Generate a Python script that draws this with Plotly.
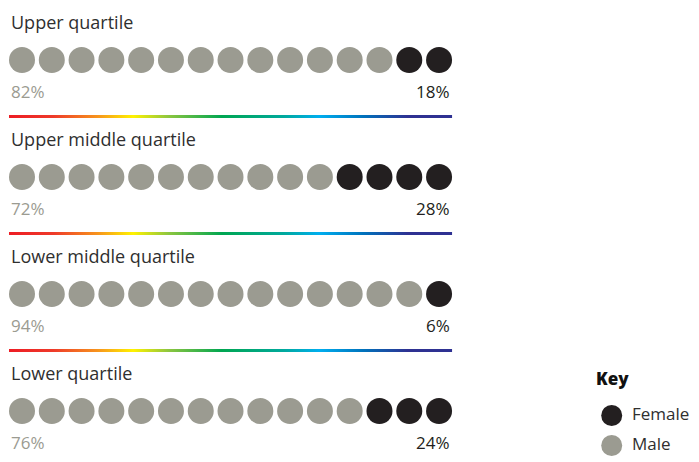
import plotly.graph_objects as go

# ---- data ----
quartiles = ["Upper quartile", "Upper middle quartile", "Lower middle quartile", "Lower quartile"]
male_pct = [82, 72, 94, 76]
female_pct = [18, 28, 6, 24]
male_dots = [13, 11, 14, 12]
female_dots = [2, 4, 1, 3]
key_labels = ["Female", "Male"]

# ---- styling ----
MALE = "#9b9b91"
FEMALE = "#231f20"
TEXT = "#2f2f2f"
FONT = "Open Sans, sans-serif"
PAGE_OFF = 8          # body margin of the html page
W, H = 699 - PAGE_OFF, 462 - PAGE_OFF
DX = 29.79      # px per dot index
ROW = 117.0     # px per row
X0, Y0 = 22.0, 60.0  # screen position of first dot
R = 13.0

def px_x(p):
    return (p - X0) / DX

def px_y(p):
    return (p - Y0) / ROW

rainbow = [
    [0.0, "#ed1c24"], [0.10, "#ee3a2a"], [0.20, "#f7941d"], [0.28, "#fff200"],
    [0.36, "#8dc63f"], [0.48, "#00a651"], [0.62, "#00a99d"], [0.70, "#00aeef"],
    [0.80, "#0072bc"], [0.90, "#2e3192"], [1.0, "#2e3192"],
]

fig = go.Figure()

mx, my, fx, fy = [], [], [], []
for r in range(len(quartiles)):
    for i in range(male_dots[r]):
        mx.append(i); my.append(r)
    for j in range(female_dots[r]):
        fx.append(male_dots[r] + j); fy.append(r)

fig.add_trace(go.Scatter(x=mx, y=my, mode="markers", name="Male",
                         marker=dict(color=MALE, size=26, line=dict(width=0)),
                         hoverinfo="skip", showlegend=False))
fig.add_trace(go.Scatter(x=fx, y=fy, mode="markers", name="Female",
                         marker=dict(color=FEMALE, size=26, line=dict(width=0)),
                         hoverinfo="skip", showlegend=False))

left = -R / DX
ndots = [m + f for m, f in zip(male_dots, female_dots)]
right = ndots[0] - 1 + R / DX
half = 1.4 / ROW
off_line = 56.5 / ROW
for r in range(len(quartiles) - 1):
    yc = r + off_line
    fig.add_trace(go.Scatter(
        x=[left, right, right, left, left],
        y=[yc - half, yc - half, yc + half, yc + half, yc - half],
        mode="lines", line=dict(width=0), fill="toself",
        fillgradient=dict(type="horizontal", colorscale=rainbow),
        hoverinfo="skip", showlegend=False))

ann = []
for r, q in enumerate(quartiles):
    ann.append(dict(x=left, y=r - 38 / ROW, text=q, xanchor="left", yanchor="middle",
                    showarrow=False, font=dict(family=FONT, size=18, color=TEXT)))
    ann.append(dict(x=left, y=r + 31 / ROW, text=f"{male_pct[r]}%", xanchor="left",
                    yanchor="middle", showarrow=False,
                    font=dict(family=FONT, size=17, color=MALE)))
    ann.append(dict(x=right, y=r + 31 / ROW, text=f"{female_pct[r]}%", xanchor="right",
                    yanchor="middle", showarrow=False,
                    font=dict(family=FONT, size=17, color=FEMALE)))

# key
kx = px_x(611.7)
ky = [px_y(415.5), px_y(445.5)]
fig.add_trace(go.Scatter(x=[kx, kx], y=ky, mode="markers",
                         marker=dict(color=[FEMALE, MALE], size=21, line=dict(width=0)),
                         hoverinfo="skip", showlegend=False))
for lab, yy in zip(key_labels, ky):
    ann.append(dict(x=px_x(630), y=yy - 2 / ROW, text=lab, xanchor="left", yanchor="middle",
                    showarrow=False, font=dict(family=FONT, size=17, color=TEXT)))
ann.append(dict(x=px_x(594), y=px_y(378), text="Key", xanchor="left", yanchor="middle",
                showarrow=False, font=dict(family=FONT, size=17, color="#111111", weight=800)))

fig.update_layout(
    width=W, height=H, margin=dict(l=0, r=0, t=0, b=0),
    paper_bgcolor="white", plot_bgcolor="white",
    xaxis=dict(range=[px_x(PAGE_OFF), px_x(PAGE_OFF + W)], visible=False, fixedrange=True),
    yaxis=dict(range=[px_y(PAGE_OFF + H), px_y(PAGE_OFF)], visible=False, fixedrange=True),
    annotations=ann, showlegend=False,
)

fig.write_html("out.html")
